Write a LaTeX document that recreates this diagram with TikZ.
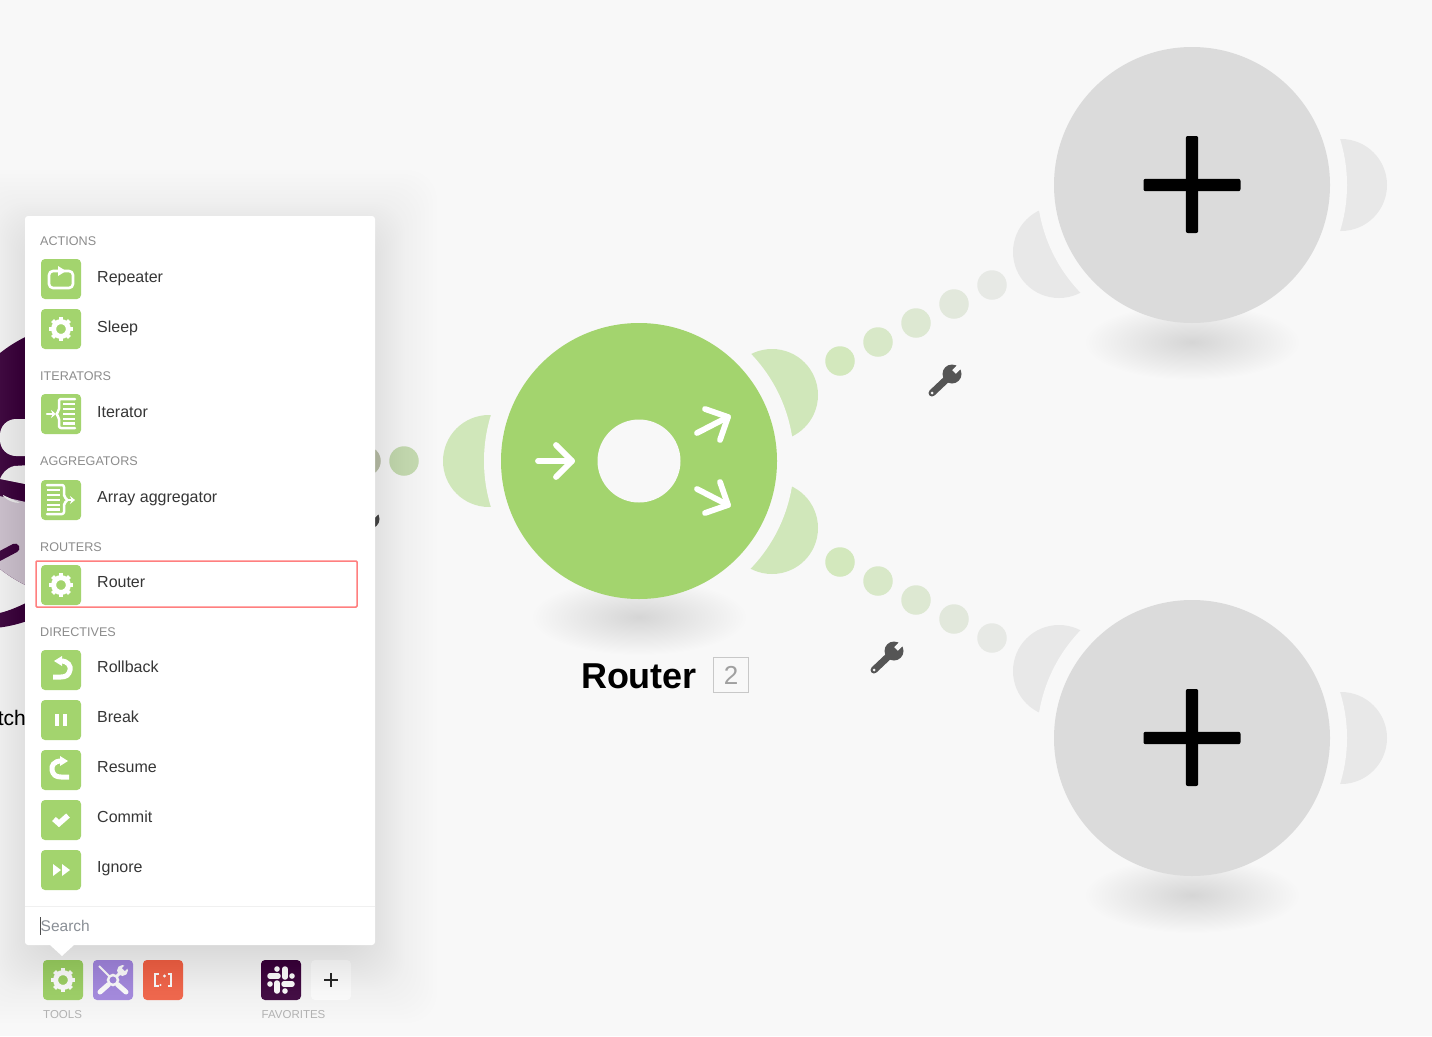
\documentclass[tikz,border=0pt]{standalone}
\usepackage{fontspec}
\setmainfont{Liberation Sans}
\usepackage{xcolor}
\usetikzlibrary{positioning, arrows.meta}

\definecolor{canvasbg}{HTML}{F8F8F8}
\definecolor{routergreen}{HTML}{A3D46E}
\definecolor{moongreen}{HTML}{D0E7BA}
\definecolor{moongrey}{HTML}{E8E8E8}
\definecolor{plusgrey}{HTML}{DBDBDB}
\definecolor{slackpurple}{HTML}{4A154B}
\definecolor{slacklilac}{HTML}{D3C8D4}
\definecolor{toolpurple}{HTML}{AA90E2}
\definecolor{toolred}{HTML}{F56E54}
\definecolor{wrenchgrey}{HTML}{555555}
\definecolor{menutext}{HTML}{363636}
\definecolor{headtext}{HTML}{8C8C8C}
\definecolor{footertext}{HTML}{B4B4B4}
\definecolor{searchtext}{HTML}{8A8F96}
\definecolor{markred}{HTML}{FF7F7F}
\definecolor{dotone}{HTML}{D3E8BD}
\definecolor{dottwo}{HTML}{D8E8C8}
\definecolor{dotthree}{HTML}{DDE8D2}
\definecolor{dotfour}{HTML}{E2E8DC}
\definecolor{dotfive}{HTML}{E7E9E5}

\tikzset{
  bigcircle/.style = {circle, draw=none, inner sep=0pt, minimum size=276pt},
  cutcircle/.style = {circle, fill=canvasbg, inner sep=0pt, minimum size=310pt},
  moon/.style = {circle, inner sep=0pt, minimum size=92pt},
  linkdot/.style = {circle, inner sep=0pt, minimum size=29.5pt},
  tile/.style = {rectangle, rounded corners=4pt, inner sep=0pt, minimum size=40pt},
  itemtext/.style = {anchor=base west, inner sep=0pt, text=menutext, font=\fontsize{16}{18}\selectfont},
  headtxt/.style = {anchor=base west, inner sep=0pt, text=headtext, font=\fontsize{12.6}{14}\selectfont},
  foottxt/.style = {anchor=base west, inner sep=0pt, text=footertext, font=\fontsize{11.5}{13}\selectfont},
  iconline/.style = {draw=white, line width=#1, line cap=round, line join=round},
  iconline/.default = 2,
  gearicon/.pic = {
    \foreach \a in {0,45,...,315} {\draw[white, line width=4.2pt] (\a:8) -- (\a:12);}
    \draw[white, line width=5pt] (0,0) circle (7.4);
  },
  repeaticon/.pic = {
    \draw[iconline=2.6, rounded corners=4pt] (-12,-8) rectangle (12,9);
    \fill[white] (-3,-13) -- (5,-8) -- (-3,-3) -- cycle;
  },
  itericon/.pic = {
    \draw[iconline=2.5, rounded corners=2pt] (14,-15) -- (-2,-15) -- (-2,-3) -- (-5,0) -- (-2,3) -- (-2,14) -- (14,14);
    \draw[iconline=2.2, -{Stealth[length=5pt,width=8pt]}] (-14,0) -- (-5,0);
    \foreach \v in {-10,-5,0,5,9.5} {\draw[white, line width=2.6pt] (2,\v) -- (14,\v);}
  },
  aggicon/.pic = {
    \draw[iconline=2.5, rounded corners=2pt] (-14,-15) -- (3,-15) -- (3,-3) -- (7,0) -- (3,3) -- (3,14) -- (-14,14);
    \draw[iconline=2.2, -{Stealth[length=5pt,width=8pt]}] (7,0) -- (14,0);
    \foreach \v in {-10,-5,0,5,9.5} {\draw[white, line width=2.6pt] (-14,\v) -- (-1,\v);}
  },
  rollicon/.pic = {
    \draw[white, line width=5pt] (0,-9) .. controls (7,-9) and (10,-4) .. (9,0) .. controls (8,5) and (5,7) .. (0,7) -- (-8,7);
    \fill[white] (-7,-9) -- (1,-14) -- (1,-4) -- cycle;
  },
  resumeicon/.pic = {
    \draw[white, line width=5pt] (0,-9) .. controls (-7,-9) and (-10,-4) .. (-9,0) .. controls (-8,5) and (-5,7) .. (0,7) -- (8,7);
    \fill[white] (7,-9) -- (-1,-14) -- (-1,-4) -- cycle;
  },
  breakicon/.pic = {
    \fill[white] (-6,-6) rectangle (-2,6);
    \fill[white] (2,-6) rectangle (6,6);
  },
  commiticon/.pic = {
    \draw[white, line width=5.5pt] (-7,-1) -- (-2,3.5) -- (7,-4.5);
  },
  ignoreicon/.pic = {
    \fill[white] (-8,-6) -- (0,0) -- (-8,6) -- cycle;
    \fill[white] (1,-6) -- (9,0) -- (1,6) -- cycle;
  },
  toolsicon/.pic = {
    \draw[white, line width=2.5pt] (0,0) circle (5);
    \draw[white, line width=2pt] (-14,-14) -- (-4,-4);
    \draw[white, line width=5pt, line cap=round] (4.5,4.5) -- (13,12);
    \draw[white, line width=5pt, line cap=round] (-4.5,4.5) -- (-13,12);
    \draw[white, line width=3pt] (3.5,-3.5) -- (9,-9);
    \fill[white] (9.5,-9.5) circle (5.5);
    \draw[toolpurple, line width=4pt] (10.5,-10.5) -- (17,-17);
  },
  tagicon/.pic = {
    \draw[white, line width=2.4pt] (-4.5,-6) -- (-8,-6) -- (-8,6) -- (-4.5,6);
    \draw[white, line width=2.4pt] (4.5,-6) -- (8,-6) -- (8,6) -- (4.5,6);
    \fill[white] (1.5,-4) circle (1.6);
    \fill[white] (-2.5,5) circle (1.2);
  },
  slackicon/.pic = {
    \foreach \ang in {0,90,180,270} {
      \begin{scope}[rotate=\ang]
        \draw[white, line width=5.5pt, line cap=round] (-11,-4) -- (-3,-4);
        \fill[white] (-4,-11) circle (2.8);
      \end{scope}
    }
  },
  addicon/.pic = {
    \draw[black!80, line width=1.6pt] (-7,0) -- (7,0);
    \draw[black!80, line width=1.6pt] (0,-7) -- (0,7);
  },
  wrenchicon/.pic = {
    \draw[wrenchgrey, line width=7pt, line cap=round] (-13,12) -- (5,-5);
    \fill[wrenchgrey] (7,-7) circle (9.5);
    \draw[canvasbg, line width=5pt] (9,-9) -- (20,-20);
    \fill[canvasbg] (-13,12) circle (1.5);
  }
}

\begin{document}
\begin{tikzpicture}[x=1pt, y=-1pt]
    \useasboundingbox (0,0) rectangle (1432,1036);
    \fill[canvasbg] (0,0) rectangle (1432,1036);

    % slack module behind the menu
    \node[bigcircle, fill=slackpurple] (slack) at (86,461) {};
    \begin{scope}
      \clip (86,461) circle (138);
      \fill[slacklilac] (-5,495) -- (30,503) -- (30,610) -- (-5,610) -- cycle;
      \fill[white!96!black, rounded corners=16pt] (0,419) rectangle (60,456);
      \fill[white!96!black] (30,465) -- (14,466) .. controls (6,468) and (2,474) .. (0,479) -- (30,485) -- cycle;
      \fill[white!94!black] (3,496) .. controls (8,501) and (14,503) .. (20,503) -- (3,495) -- cycle;
    \end{scope}
    \draw[slackpurple, line width=9pt, line cap=round] (-4,558) -- (15,548);
    \fill[slackpurple] (-5,614) .. controls (6,612) and (16,608) .. (30,601) -- (30,620) .. controls (16,625) and (6,627) .. (-5,628) -- cycle;
    \node[anchor=base east, inner sep=0pt, font=\fontsize{21}{24}\selectfont] (slacklabel) at (26,725) {tch};

    % half moons, cut out by a larger circle
    \node[moon, fill=moongreen] (moonIn) at (489,461) {};
    \node[moon, fill=moongreen] (moonUp) at (772,395) {};
    \node[moon, fill=moongreen] (moonDown) at (772,528) {};
    \node[moon, fill=moongrey] (moonAin) at (1059,252) {};
    \node[moon, fill=moongrey] (moonAout) at (1341,185) {};
    \node[moon, fill=moongrey] (moonBin) at (1059,671) {};
    \node[moon, fill=moongrey] (moonBout) at (1341,738) {};
    \node[cutcircle] (cutRouter) at (639,461) {};
    \node[cutcircle] (cutA) at (1192,185) {};
    \node[cutcircle] (cutB) at (1192,738) {};

    % ground shadows
    \foreach \name/\cx/\cy in {routershade/639/617, plusAshade/1192/342, plusBshade/1192/895} {
      \shade[inner color=black!14!canvasbg, outer color=canvasbg] (\cx,\cy) ellipse (108 and 38);
    }

    % dots
    \node[linkdot, fill={rgb,255:red,192;green,197;blue,176}] (dotInA) at (366,461) {};
    \node[linkdot, fill={rgb,255:red,200;green,221;blue,180}] (dotInB) at (404,461) {};
    \foreach \i/\x/\yu/\yd/\tone in {1/840/361/562/dotone, 2/878/342/581/dottwo, 3/916/323/600/dotthree, 4/954/304/619/dotfour, 5/992/285/638/dotfive} {
      \node[linkdot, fill=\tone] (dotUp\i) at (\x,\yu) {};
      \node[linkdot, fill=\tone] (dotDown\i) at (\x,\yd) {};
    }

    % modules
    \node[bigcircle, fill=routergreen] (router) at (639,461) {};
    \node[circle, fill=canvasbg, inner sep=0pt, minimum size=83pt] (routerhole) at (router) {};
    \node[bigcircle, fill=plusgrey] (plusA) at (1192,185) {};
    \node[bigcircle, fill=plusgrey] (plusB) at (1192,738) {};
    \foreach \n in {plusA, plusB} {
      \fill[black, rounded corners=2pt] ([shift={(-48.5pt,6.2pt)}]\n.center) rectangle ([shift={(48.5pt,-6.2pt)}]\n.center);
      \fill[black, rounded corners=2pt] ([shift={(-6.2pt,49pt)}]\n.center) rectangle ([shift={(6.2pt,-48pt)}]\n.center);
    }

    % router arrows
    \begin{scope}[white, line width=5.8pt, line cap=round, line join=round]
      \draw (538,461) -- (572,461);
      \draw (556,445) -- (572,461) -- (556,477);
      \draw (697,433) -- (728,417);
      \draw (705,409) -- (728,417) -- (720,440);
      \draw (697,489) -- (728,505);
      \draw (705,513) -- (728,505) -- (720,482);
    \end{scope}

    \node[anchor=base, inner sep=0pt, font=\bfseries\fontsize{36}{40}\selectfont] (routerlabel) at (639,688) {Router};
    \node[draw={rgb,255:red,200;green,200;blue,200}, line width=1.5pt, inner sep=0pt, minimum size=35pt, text={rgb,255:red,160;green,160;blue,160}, font=\fontsize{26}{28}\selectfont] (routerbadge) at (731,675) {2};

    \pic at (945,381) {wrenchicon};
    \pic at (887,658) {wrenchicon};
    \pic at (363,526) {wrenchicon};

    % toolbar
    \node[tile, fill=routergreen] (tooltileA) at (63,980) {};
    \node[tile, fill=toolpurple] (tooltileB) at (113,980) {};
    \node[tile, fill=toolred] (tooltileC) at (163,980) {};
    \node[tile, fill=slackpurple] (favtileA) at (281,980) {};
    \node[tile, fill=white] (favtileB) at (331,980) {};
    \pic at (tooltileA) {gearicon};
    \pic at (tooltileB) {toolsicon};
    \pic at (tooltileC) {tagicon};
    \pic at (favtileA) {slackicon};
    \pic at (favtileB) {addicon};
    \node[foottxt] (toolslabel) at (43,1018.5) {TOOLS};
    \node[foottxt] (favlabel) at (261.5,1018.5) {FAVORITES};

    % menu with its soft shadow
    \foreach \d in {-16,-14,...,30,34,38,...,62} {
      \fill[black, opacity=.005, rounded corners=30pt] ({25-\d},{232-\d}) rectangle ({375+\d},{961+\d});
    }
    \fill[white] (50,945) -- (62,956) -- (74,945) -- cycle;
    \node[rectangle, fill=white, rounded corners=3pt, inner sep=0pt, minimum width=350pt, minimum height=729pt] (menu) at (200,580.5) {};
    \draw[black!6] (25,906.5) -- (375,906.5);

    \node[headtxt] (headActions) at (40,245) {ACTIONS};
    \node[headtxt] (headIterators) at (40,380) {ITERATORS};
    \node[headtxt] (headAggregators) at (40,465) {AGGREGATORS};
    \node[headtxt] (headRouters) at (40,551) {ROUTERS};
    \node[headtxt] (headDirectives) at (40,636) {DIRECTIVES};

    \foreach \itemname/\ypos/\ybase/\iconname in {Repeater/279/282/repeaticon, Sleep/329/332/gearicon, Iterator/414/417/itericon, Array aggregator/500/502/aggicon, Router/585/587/gearicon, Rollback/670/672/rollicon, Break/720/722/breakicon, Resume/770/772/resumeicon, Commit/820/822/commiticon, Ignore/870/872/ignoreicon} {
      \node[tile, fill=routergreen] (tile\ypos) at (61,\ypos) {};
      \pic at (tile\ypos) {\iconname};
      \node[itemtext] (item\ypos) at (97,\ybase) {\itemname};
    }

    \draw[markred, line width=1.5pt, rounded corners=1pt] (36,561) rectangle (357,607);

    \node[anchor=base west, inner sep=0pt, text=searchtext, font=\fontsize{15.5}{18}\selectfont] (searchtxt) at (40.5,931) {Search};
    \draw[black!70, line width=1pt] (40.5,917) -- (40.5,935);
\end{tikzpicture}
\end{document}
